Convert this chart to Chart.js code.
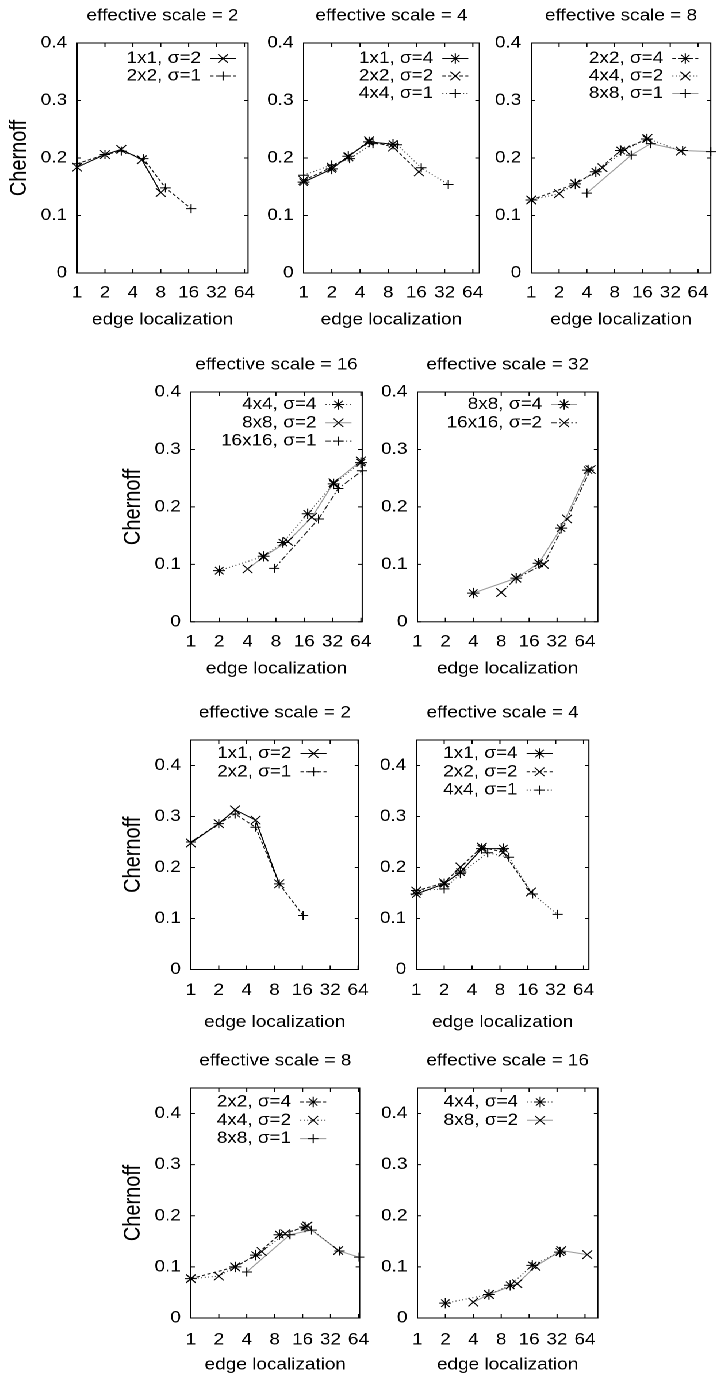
<!DOCTYPE html>
<html>
<head>
<meta charset="utf-8">
<script src="https://cdn.jsdelivr.net/npm/chart.js@4.4.1/dist/chart.umd.min.js"></script>
<style>
  html, body { margin: 0; padding: 0; background: #fff; }
  #fig { position: absolute; left: 0; top: 0; width: 625px; height: 1375px; transform: scaleX(1.15); transform-origin: 0 0; }
  #fig canvas { position: absolute; }
</style>
</head>
<body>
<div id="fig"></div>
<script>
// tick values shared by every panel
const xTicks = [1, 2, 4, 8, 16, 32, 64];
const yTicks = [0, 0.1, 0.2, 0.3, 0.4];
const titles = ["effective scale = 2", "effective scale = 4", "effective scale = 8",
                "effective scale = 16", "effective scale = 32",
                "effective scale = 2", "effective scale = 4",
                "effective scale = 8", "effective scale = 16"];

// panel data (x = edge localization, y = Chernoff)
const labelsA = ["1x1, σ=2", "2x2, σ=1"];
const xA = [[1, 2, 3, 5, 8], [1, 2, 3, 5.2, 9, 17]];
const yA = [[0.184, 0.206, 0.215, 0.197, 0.140], [0.190, 0.206, 0.212, 0.199, 0.148, 0.112]];

const labelsB = ["1x1, σ=4", "2x2, σ=2", "4x4, σ=1"];
const xB = [[1, 2, 3, 5, 9], [1, 2, 3, 5, 9, 17], [1, 2, 3.1, 5.5, 10, 18, 35]];
const yB = [[0.158, 0.181, 0.203, 0.228, 0.224], [0.161, 0.184, 0.202, 0.230, 0.219, 0.176],
            [0.170, 0.188, 0.199, 0.225, 0.223, 0.183, 0.154]];

const labelsC = ["2x2, σ=4", "4x4, σ=2", "8x8, σ=1"];
const xC = [[1, 3, 5, 9.3, 17.9], [1, 2, 3, 5.9, 10.3, 18.1, 41.8], [4, 12.1, 19.7, 43.6, 88]];
const yC = [[0.127, 0.155, 0.176, 0.213, 0.233], [0.127, 0.138, 0.155, 0.183, 0.214, 0.234, 0.212],
            [0.139, 0.205, 0.225, 0.213, 0.211]];

const labelsD = ["4x4, σ=4", "8x8, σ=2", "16x16, σ=1"];
const xD = [[2, 5.9, 9.5, 17.4, 32.8, 64], [4, 5.9, 10.7, 19.3, 32.8, 64], [7.7, 22.7, 36.8, 66]];
const yD = [[0.089, 0.114, 0.138, 0.188, 0.240, 0.277], [0.092, 0.113, 0.140, 0.182, 0.242, 0.280],
            [0.093, 0.179, 0.232, 0.263]];

const labelsE = ["8x8, σ=4", "16x16, σ=2"];
const xE = [[4, 11.6, 20.3, 35.3, 69], [8, 11.6, 23, 41, 73.5]];
const yE = [[0.050, 0.076, 0.102, 0.163, 0.264], [0.051, 0.076, 0.100, 0.179, 0.265]];

const labelsF = ["1x1, σ=2", "2x2, σ=1"];
const xF = [[1, 2, 3, 5, 9], [1, 2, 3, 5, 9, 16.3]];
const yF = [[0.248, 0.286, 0.313, 0.293, 0.168], [0.250, 0.286, 0.305, 0.279, 0.168, 0.106]];

const labelsG = ["1x1, σ=4", "2x2, σ=2", "4x4, σ=1"];
const xG = [[1, 2, 3, 5.1, 8.7], [1, 2, 3, 5.1, 8.7, 17.3], [1, 2, 3, 5.9, 10, 18, 33.5]];
const yG = [[0.148, 0.168, 0.191, 0.237, 0.237], [0.154, 0.170, 0.201, 0.240, 0.230, 0.152],
            [0.155, 0.158, 0.188, 0.229, 0.220, 0.148, 0.108]];

const labelsH = ["2x2, σ=4", "4x4, σ=2", "8x8, σ=1"];
const xH = [[1, 3, 5, 9, 17], [1, 2, 3, 5.8, 10.4, 18, 38.7], [4, 11.7, 20, 40, 65]];
const yH = [[0.077, 0.100, 0.123, 0.163, 0.178], [0.077, 0.082, 0.100, 0.130, 0.165, 0.180, 0.132],
            [0.090, 0.163, 0.172, 0.131, 0.119]];

const labelsI = ["4x4, σ=4", "8x8, σ=2"];
const xI = [[2, 5.9, 10, 17.3, 34.4], [4, 5.9, 11.9, 18.7, 35.5, 67.7]];
const yI = [[0.029, 0.046, 0.064, 0.103, 0.129], [0.031, 0.046, 0.067, 0.101, 0.132, 0.124]];

// layout (page pixels): plot box, axis ranges, key position
const S = 1.15;           // the original figure is stretched horizontally
const FONT_SIZE = 16.5;
const YT_SIZE = 20;
const FAMILY = '"Liberation Sans", Arial, Helvetica, sans-serif';
const WY = 62, T = 44;
const panels = [
  { lab: labelsA, xs: xA, ys: yA, box: [77.3, 248.3, 42.7, 272.7], xmax: 70, ymax: 0.4, yt: true,  legX: 223.3, leg0: 15.5, step: 17.5, xtPad: 10.1, xtDy: 47 },
  { lab: labelsB, xs: xB, ys: yB, box: [303.3, 479, 42.7, 272.7], xmax: 75, ymax: 0.4, yt: false, legX: 455, leg0: 15.5, step: 17.5, xtPad: 10.1, xtDy: 47 },
  { lab: labelsC, xs: xC, ys: yC, box: [531, 710.5, 42.7, 272.7], xmax: 88, ymax: 0.4, yt: false, legX: 685, leg0: 15.5, step: 17.5, xtPad: 10.1, xtDy: 47 },
  { lab: labelsD, xs: xD, ys: yD, box: [190.7, 362, 391.7, 621.5], xmax: 66, ymax: 0.4, yt: true,  legX: 338.3, leg0: 12.5, step: 18.3, xtPad: 10.1, xtDy: 47 },
  { lab: labelsE, xs: xE, ys: yE, box: [417.3, 597.7, 391.7, 621.5], xmax: 88, ymax: 0.4, yt: false, legX: 564, leg0: 12.5, step: 18.3, xtPad: 10.1, xtDy: 47 },
  { lab: labelsF, xs: xF, ys: yF, box: [190.7, 358.5, 740, 969.5], xmax: 65, ymax: 0.45, yt: true,  legX: 313.3, leg0: 13.5, step: 18.3, xtPad: 11.1, xtDy: 53 },
  { lab: labelsG, xs: xG, ys: yG, box: [416.7, 589.3, 740, 969.5], xmax: 73, ymax: 0.45, yt: false, legX: 540, leg0: 13.5, step: 18.3, xtPad: 11.1, xtDy: 53 },
  { lab: labelsH, xs: xH, ys: yH, box: [190.7, 359.5, 1087.7, 1317.7], xmax: 66, ymax: 0.45, yt: true,  legX: 313, leg0: 14, step: 18.3, xtPad: 12.1, xtDy: 47 },
  { lab: labelsI, xs: xI, ys: yI, box: [417.3, 597.7, 1087.7, 1317.7], xmax: 88, ymax: 0.45, yt: false, legX: 540, leg0: 14, step: 18.3, xtPad: 12.1, xtDy: 47 }
];

// line style by block size, marker by sigma
const lineStyles = {
  "1x1": { color: "#000", dash: [] },
  "2x2": { color: "#111", dash: [3, 2] },
  "4x4": { color: "#444", dash: [1, 2] },
  "8x8": { color: "#999", dash: [] },
  "16x16": { color: "#222", dash: [5, 2, 1.5, 2] }
};
const markers = { "1": ["cross", 4.5], "2": ["crossRot", 6], "4": ["star", 5.2] };

function seriesStyle(label) {
  const ls = lineStyles[label.split(",")[0]];
  const mk = markers[label.split("=")[1]];
  return { borderColor: ls.color, borderDash: ls.dash, pointStyle: mk[0], pointRadius: mk[1] };
}

function drawMarker(ctx, style, r, x, y) {
  ctx.beginPath();
  if (style === "cross" || style === "star") {
    ctx.moveTo(x - r, y); ctx.lineTo(x + r, y);
    ctx.moveTo(x, y - r); ctx.lineTo(x, y + r);
  }
  if (style === "crossRot" || style === "star") {
    const d = r * Math.SQRT1_2;
    ctx.moveTo(x - d, y - d); ctx.lineTo(x + d, y + d);
    ctx.moveTo(x - d, y + d); ctx.lineTo(x + d, y - d);
  }
  ctx.stroke();
}

// border, inward ticks, title and key in gnuplot style
const gnuFrame = {
  id: "gnuFrame",
  afterDraw(chart, args, o) {
    const { ctx, chartArea: a, scales } = chart;
    ctx.save();
    ctx.strokeStyle = "#000";
    ctx.lineWidth = 1;
    ctx.setLineDash([]);
    ctx.strokeRect(a.left, a.top, a.right - a.left, a.bottom - a.top);
    ctx.beginPath();
    xTicks.forEach(v => {
      const px = scales.x.getPixelForValue(v);
      ctx.moveTo(px, a.bottom); ctx.lineTo(px, a.bottom - 4);
      ctx.moveTo(px, a.top); ctx.lineTo(px, a.top + 4);
    });
    yTicks.forEach(v => {
      const py = scales.y.getPixelForValue(v);
      ctx.moveTo(a.left, py); ctx.lineTo(a.left + 4 / S, py);
      ctx.moveTo(a.right, py); ctx.lineTo(a.right - 4 / S, py);
    });
    ctx.stroke();

    ctx.fillStyle = "#000";
    ctx.font = FONT_SIZE + "px " + FAMILY;
    ctx.textAlign = "center";
    ctx.textBaseline = "middle";
    ctx.fillText(o.title, (a.left + a.right) / 2, a.top - 27);

    const cx = a.left + o.legX;
    chart.data.datasets.forEach((ds, i) => {
      const y = a.top + o.leg0 + i * o.step;
      ctx.textAlign = "right";
      ctx.fillStyle = "#000";
      ctx.fillText(ds.label, cx - 22 / S, y);
      ctx.strokeStyle = ds.borderColor;
      ctx.setLineDash(ds.borderDash);
      ctx.beginPath();
      ctx.moveTo(cx - 13 / S, y); ctx.lineTo(cx + 13 / S, y);
      ctx.stroke();
      ctx.setLineDash([]);
      ctx.strokeStyle = "#000";
      drawMarker(ctx, ds.pointStyle, ds.pointRadius, cx, y);
    });
    ctx.restore();
  }
};

const fig = document.getElementById("fig");
const font = { family: FAMILY, size: FONT_SIZE };
const ytFont = { family: FAMILY, size: YT_SIZE };

panels.forEach((p, k) => {
  const [l, r, t, b] = p.box;
  const pw = (r - l) / S, ph = b - t;
  const HX = p.xtDy + FONT_SIZE * 0.6 + 4;
  const cw = Math.ceil(WY + pw + 20), ch = Math.ceil(T + ph + HX + 2);
  const canvas = document.createElement("canvas");
  canvas.width = cw; canvas.height = ch;
  canvas.style.left = (l / S - WY) + "px";
  canvas.style.top = (t - T) + "px";
  canvas.style.width = cw + "px"; canvas.style.height = ch + "px";
  fig.appendChild(canvas);

  const datasets = p.lab.map((lab, i) => Object.assign({
    label: lab,
    data: p.xs[i].map((x, j) => ({ x: x, y: p.ys[i][j] })),
    showLine: true,
    borderWidth: 1,
    pointBorderColor: "#000",
    pointBackgroundColor: "rgba(0,0,0,0)",
    pointBorderWidth: 1,
    pointHoverRadius: 5,
    tension: 0,
    clip: 8
  }, seriesStyle(lab)));

  new Chart(canvas, {
    type: "scatter",
    data: { datasets: datasets },
    options: {
      responsive: false,
      animation: false,
      devicePixelRatio: 2,
      events: [],
      layout: { padding: { left: 0, top: T, right: cw - WY - pw, bottom: ch - T - ph - HX } },
      plugins: {
        legend: { display: false },
        tooltip: { enabled: false },
        gnuFrame: { title: titles[k], legX: (p.legX - l) / S, leg0: p.leg0, step: p.step }
      },
      scales: {
        x: {
          type: "logarithmic", min: 1, max: p.xmax,
          afterBuildTicks: s => { s.ticks = xTicks.map(v => ({ value: v })); },
          afterFit: s => { s.height = HX; s.paddingLeft = s.paddingRight = s.paddingTop = s.paddingBottom = 0; },
          ticks: { autoSkip: false, maxRotation: 0, padding: p.xtPad, color: "#000", font: font, callback: v => String(v) },
          grid: { display: false, drawTicks: false },
          border: { display: false },
          title: { display: true, text: "edge localization", color: "#000", font: font, padding: { top: 0, bottom: 4 } }
        },
        y: {
          type: "linear", min: 0, max: p.ymax,
          afterBuildTicks: s => { s.ticks = yTicks.map(v => ({ value: v })); },
          afterFit: s => { s.width = WY; s.paddingLeft = s.paddingRight = s.paddingTop = s.paddingBottom = 0; },
          ticks: { padding: 8.7, color: "#000", font: font, callback: v => String(v) },
          grid: { display: false, drawTicks: false },
          border: { display: false },
          title: { display: p.yt, text: "Chernoff", color: "#000", font: ytFont, padding: { top: 0, bottom: 0 } }
        }
      }
    },
    plugins: [gnuFrame]
  });
});
</script>
</body>
</html>
